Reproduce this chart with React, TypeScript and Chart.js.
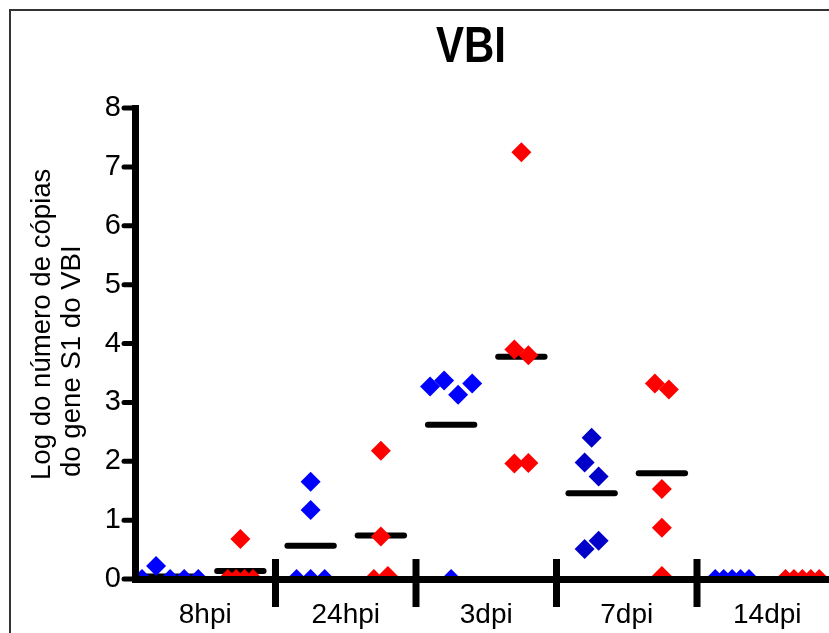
import React, { useEffect, useRef } from 'react';
import { Chart, registerables } from 'chart.js';

Chart.register(...registerables);

// ---- data ----
const categories = ['8hpi', '24hpi', '3dpi', '7dpi', '14dpi'];
const yTickValues = [0, 1, 2, 3, 4, 5, 6, 7, 8];

const blue8hpi = [0, 0.22, 0, 0, 0];
const blue24hpi = [1.65, 1.17, 0, 0, 0];
const blue3dpi = [3.27, 3.37, 3.13, 3.32, 0];
const blue7dpi = [1.98, 2.4, 1.74, 0.51, 0.65];
const blue14dpi = [0, 0, 0, 0, 0];

const red8hpi = [0.68, 0, 0, 0, 0];
const red24hpi = [2.18, 0.72, 0, 0.05];
const red3dpi = [3.9, 3.8, 7.25, 1.96, 1.97];
const red7dpi = [3.32, 3.22, 1.53, 0.87, 0.05];
const red14dpi = [0, 0, 0, 0, 0];

const blueGroups = [blue8hpi, blue24hpi, blue3dpi, blue7dpi, blue14dpi];
const redGroups = [red8hpi, red24hpi, red3dpi, red7dpi, red14dpi];
const blueColors = ['#0000FF', '#0000FF', '#0000FF', '#0000C8', '#0000FF'];
const redColors = ['#FF0000', '#FF0000', '#FF0000', '#FF0000', '#FF0000'];

const titleText = 'VBI';
const yTitleLines = ['Log do número de cópias', 'do gene S1 do VBI'];

const FONT = '"Liberation Sans", Arial, Helvetica, sans-serif';

// Prism-like horizontal spreading of overlapping points within a group
function spread(values: number[], center: number) {
  const order = values.map((_, i) => i).sort((a, b) => values[a] - values[b]);
  const clusters: number[][] = [];
  let cur: number[] = [];
  order.forEach((idx, k) => {
    if (k > 0 && values[idx] - values[order[k - 1]] >= 0.3) {
      clusters.push(cur);
      cur = [];
    }
    cur.push(idx);
  });
  if (cur.length) clusters.push(cur);
  const xs: number[] = new Array(values.length).fill(center);
  clusters.forEach((c) => {
    c.sort((a, b) => a - b);
    const crowded = c.length >= 4 && c.every((i) => values[i] < 0.1);
    const step = crowded ? 0.06 : 0.1;
    c.forEach((idx, j) => {
      xs[idx] = center + (j - (c.length - 1) / 2) * step;
    });
  });
  return values.map((v, i) => ({ x: xs[i], y: v }));
}

const mean = (a: number[]) => a.reduce((s, v) => s + v, 0) / a.length;

const clip = { left: false, top: false, right: false, bottom: 0 } as any;

function buildDatasets() {
  const bluePts: any[] = [];
  const blueCols: string[] = [];
  const redPts: any[] = [];
  const redCols: string[] = [];
  blueGroups.forEach((g, i) => {
    spread(g, i + 0.25).forEach((p) => {
      bluePts.push(p);
      blueCols.push(blueColors[i]);
    });
  });
  redGroups.forEach((g, i) => {
    spread(g, i + 0.75).forEach((p) => {
      redPts.push(p);
      redCols.push(redColors[i]);
    });
  });
  const pointDs = (label: string, data: any[], cols: string[]) => ({
    label,
    data,
    pointStyle: 'rectRot',
    pointRadius: 10,
    pointHoverRadius: 10,
    pointBorderWidth: 0,
    pointBackgroundColor: cols,
    pointBorderColor: cols,
    showLine: false,
    clip,
  });
  const meanDs = (center: number, m: number) => ({
    label: 'mean',
    data: [
      { x: center - 0.165, y: m },
      { x: center + 0.165, y: m },
    ],
    showLine: true,
    borderColor: '#000000',
    borderWidth: 6,
    borderCapStyle: 'round',
    pointRadius: 0,
    pointHoverRadius: 0,
    clip,
  });
  const ds: any[] = [pointDs('blue', bluePts, blueCols), pointDs('red', redPts, redCols)];
  blueGroups.forEach((g, i) => ds.push(meanDs(i + 0.25, mean(g))));
  redGroups.forEach((g, i) => ds.push(meanDs(i + 0.75, mean(g))));
  return ds;
}

const decorPlugin = {
  id: 'decor',
  beforeDraw(chart: any) {
    const { ctx } = chart;
    ctx.save();
    ctx.fillStyle = '#ffffff';
    ctx.fillRect(0, 0, chart.width, chart.height);
    ctx.restore();
  },
  afterDraw(chart: any) {
    const { ctx, chartArea } = chart;
    const xs = chart.scales.x;
    const ys = chart.scales.y;
    ctx.save();
    // rounded tick marks on the y axis
    ctx.strokeStyle = '#000';
    ctx.lineWidth = 5;
    ctx.lineCap = 'round';
    yTickValues.forEach((v) => {
      const py = ys.getPixelForValue(v);
      ctx.beginPath();
      ctx.moveTo(chartArea.left - 11, py);
      ctx.lineTo(chartArea.left - 2, py);
      ctx.stroke();
    });
    ctx.lineCap = 'butt';
    // category separators on the x axis
    ctx.lineWidth = 7;
    for (let i = 1; i < categories.length; i++) {
      const px = xs.getPixelForValue(i);
      ctx.beginPath();
      ctx.moveTo(px, chartArea.bottom - 20);
      ctx.lineTo(px, chartArea.bottom + 28);
      ctx.stroke();
    }
    // frame
    ctx.strokeStyle = '#333';
    ctx.lineWidth = 2;
    ctx.strokeRect(10, 10, 2000, 2000);
    // title (condensed bold)
    ctx.fillStyle = '#000';
    ctx.save();
    ctx.translate(471, 62);
    ctx.scale(0.84, 1);
    ctx.font = 'bold 50px ' + FONT;
    ctx.textAlign = 'center';
    ctx.textBaseline = 'alphabetic';
    ctx.fillText(titleText, 0, 0);
    ctx.restore();
    // y axis title (two lines, start-aligned)
    ctx.font = '27.6px ' + FONT;
    ctx.textAlign = 'left';
    ctx.textBaseline = 'middle';
    yTitleLines.forEach((line, k) => {
      ctx.save();
      ctx.translate(42 + k * 30, 480 - k * 3);
      ctx.rotate(-Math.PI / 2);
      ctx.fillText(line, 0, 0);
      ctx.restore();
    });
    ctx.restore();
  },
};

export default function App() {
  const ref = useRef<HTMLCanvasElement>(null);
  useEffect(() => {
    const chart = new Chart(ref.current as HTMLCanvasElement, {
      type: 'scatter',
      data: { datasets: buildDatasets() },
      options: {
        animation: false,
        responsive: false,
        devicePixelRatio: 1,
        events: [],
        layout: { padding: { top: 108, right: 22.5, bottom: 0, left: 0 } },
        plugins: {
          legend: { display: false },
          tooltip: { enabled: false },
          title: { display: false },
        },
        scales: {
          x: {
            type: 'linear',
            min: 0,
            max: categories.length,
            afterBuildTicks: (scale: any) => {
              scale.ticks = categories.map((_, i) => ({ value: i + 0.5 }));
            },
            afterFit: (scale: any) => {
              scale.height = 54;
            },
            ticks: {
              autoSkip: false,
              maxRotation: 0,
              minRotation: 0,
              padding: 19,
              color: '#000',
              font: { family: FONT, size: 28 },
              callback: (v: any) => categories[Math.floor(Number(v))],
            },
            grid: { display: false, drawTicks: false },
            border: { display: true, width: 7, color: '#000', z: 1 },
          },
          y: {
            type: 'linear',
            min: 0,
            max: 8,
            afterBuildTicks: (scale: any) => {
              scale.ticks = yTickValues.map((v) => ({ value: v }));
            },
            afterFit: (scale: any) => {
              scale.width = 135;
            },
            ticks: {
              padding: 1,
              color: '#000',
              font: { family: FONT, size: 29 },
              callback: (v: any) => String(v),
            },
            grid: {
              drawOnChartArea: false,
              drawTicks: true,
              tickLength: 13,
              tickWidth: 0,
              tickColor: 'rgba(0,0,0,0)',
              color: '#000',
              lineWidth: 5,
            },
            border: { display: true, width: 7, color: '#000', z: 1 },
          },
        },
      } as any,
      plugins: [decorPlugin],
    });
    return () => chart.destroy();
  }, []);
  return (
    <div
      style={{
        position: 'fixed',
        left: 0,
        top: 0,
        width: 829,
        height: 633,
        overflow: 'hidden',
        background: '#fff',
      }}
    >
      <canvas ref={ref} width={860} height={633} style={{ display: 'block', width: 860, height: 633 }} />
    </div>
  );
}
